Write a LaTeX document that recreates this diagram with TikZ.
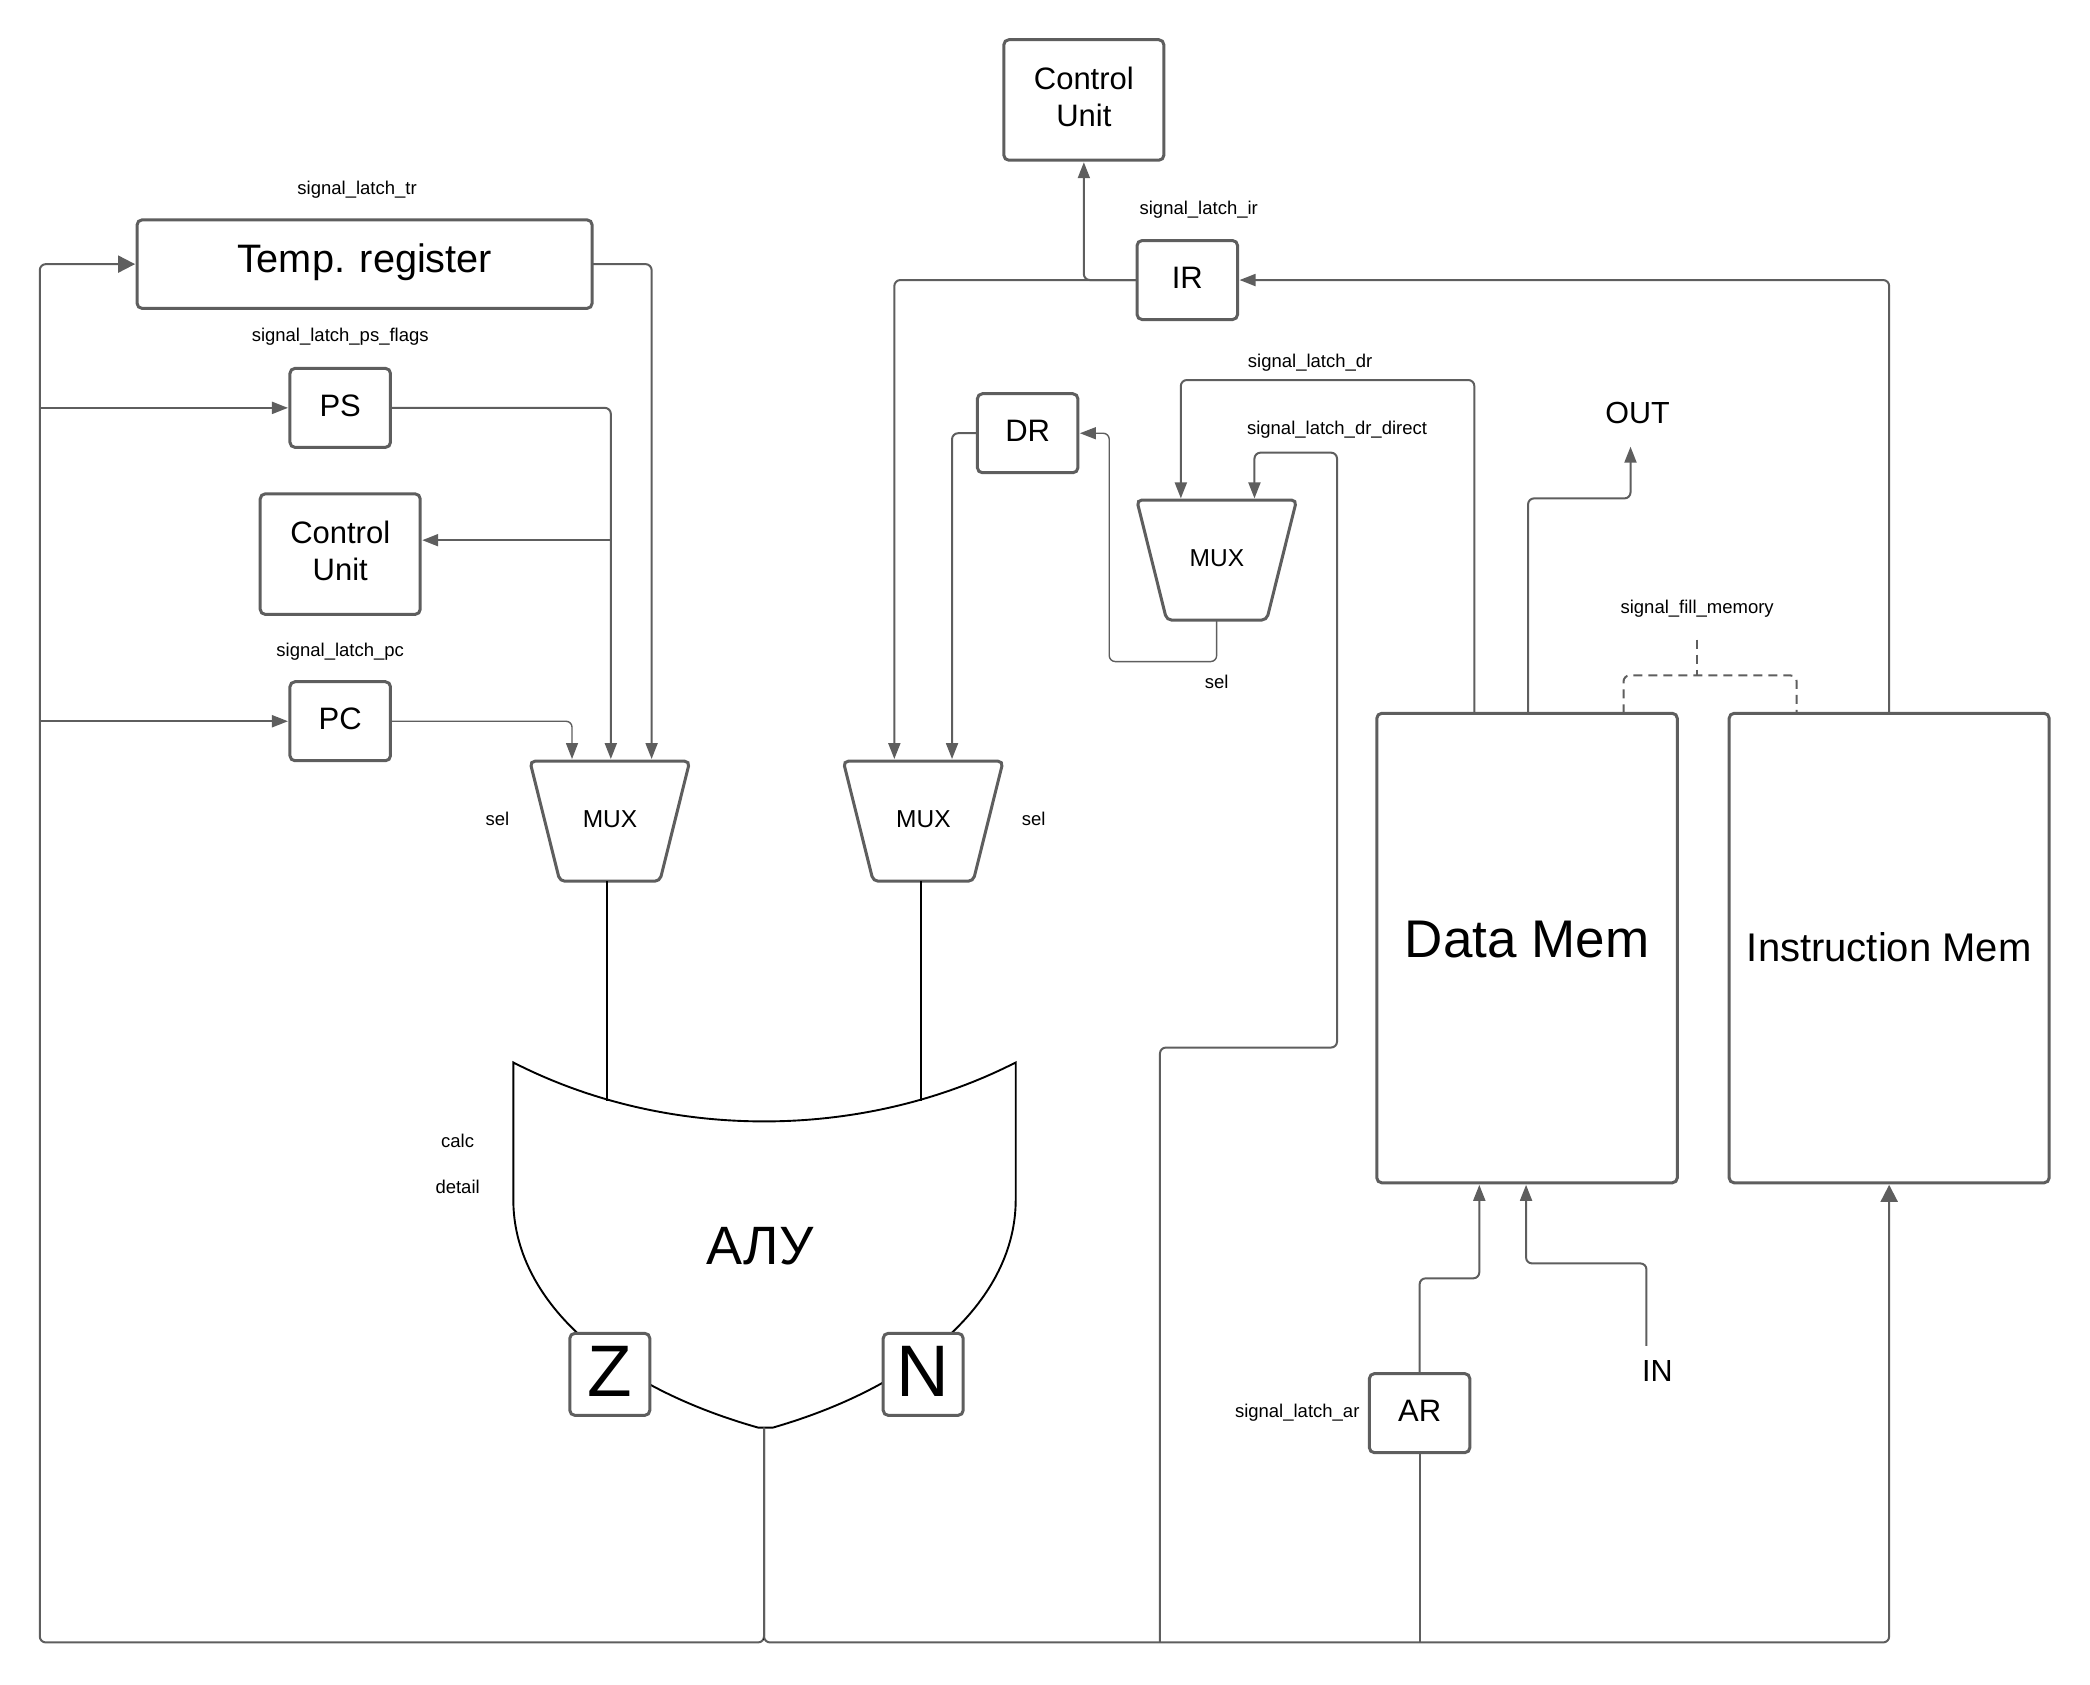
\documentclass[tikz,border=0pt]{standalone}
\usepackage{fontspec}
\setmainfont{Liberation Sans}
\usetikzlibrary{arrows.meta}
\usetikzlibrary{shapes.geometric}
\definecolor{linegray}{HTML}{5E5E5E}
\tikzset{
	box/.style={rectangle, draw=linegray, line width=3, rounded corners=5, fill=white, align=center, inner sep=0, outer sep=0},
	reg/.style={box, minimum width=100.5, minimum height=79, text depth=5, font=\fontsize{31}{37}\selectfont},
	cu/.style={box, minimum width=160, minimum height=120.5, text depth=7, font=\fontsize{31}{37}\selectfont},
	flag/.style={box, minimum width=80, minimum height=82, text depth=5, font=\fontsize{73}{80}\selectfont},
	mux/.style={trapezium, shape border rotate=180, trapezium angle=76, draw=linegray, line width=3, rounded corners=5, fill=white, text width=54, align=center, text height=18, text depth=6, inner xsep=23, inner ysep=48, outer sep=0, font=\fontsize{24.5}{30}\selectfont},
	lbl/.style={inner sep=0, font=\fontsize{18.5}{22}\selectfont},
	big/.style={inner sep=0, font=\fontsize{30.5}{36}\selectfont},
	wire/.style={draw=linegray, line width=2, rounded corners=6},
	arrow/.style={wire, -{Triangle[length=16, width=12]}, shorten >=2},
	bigarrow/.style={wire, -{Triangle[length=17, width=17]}, shorten >=2},
	blackline/.style={draw=black, line width=1.9},
}
\begin{document}
\begin{tikzpicture}[x=0.9948pt,y=-0.9948pt]
\useasboundingbox (0,0) rectangle (2100.9,1692.8);

% rails
\coordinate (railL) at (40,1651);
\coordinate (railR) at (1899,1651);
\coordinate (alutip) at (768,1435);
\coordinate (aluend) at (768,1649);

% alu body
\draw[blackline, fill=white] (516,1068) .. controls (670,1147) and (866,1147) .. (1021,1068) -- (1021,1206)
	.. controls (1021,1305) and (926,1392) .. (777,1435) -- (762,1435)
	.. controls (610,1392) and (516,1305) .. (516,1206) -- cycle;
\coordinate (alua) at (610,1107);
\coordinate (alub) at (926,1107);
\node [font=\fontsize{54}{60}\selectfont] (alu) at (764,1253) {АЛУ};
\node [flag] (z) at (613,1381.5) {Z};
\node [flag] (n) at (928,1381.5) {N};

% left side
\node [box, minimum width=455, minimum height=88.5, text depth=12, font=\fontsize{39.7}{46}\selectfont] (temp) at (366.5,265.5) {Temp. register};
\node [reg] (ps) at (342,410) {PS};
\node [cu] (cu1) at (342,557) {Control\\Unit};
\node [reg] (pc) at (342,725) {PC};
\node [mux] (mux1) at (613,825.5) {MUX};
\node [mux] (mux2) at (928,825.5) {MUX};

% right side
\node [cu] (cu2) at (1089.5,100.5) {Control\\Unit};
\node [reg] (ir) at (1193.5,281.5) {IR};
\node [reg] (dr) at (1033,435.5) {DR};
\node [mux] (mux3) at (1223,563) {MUX};
\node [box, minimum width=300.5, minimum height=469.5, text depth=18, font=\fontsize{53}{60}\selectfont] (dmem) at (1535,953) {Data Mem};
\node [box, minimum width=320, minimum height=469.5, text depth=3, font=\fontsize{40}{48}\selectfont] (imem) at (1899,953) {Instruction Mem};
\node [reg] (ar) at (1427,1420.5) {AR};
\node [big] (out) at (1646,415) {OUT};
\node [big] (in) at (1666,1378) {IN};

% mux inputs and outputs
\coordinate (mux1a) at (575,765);
\coordinate (mux1b) at (614,765);
\coordinate (mux1c) at (655,765);
\coordinate (mux2a) at (899,765);
\coordinate (mux2b) at (957,765);
\coordinate (mux3a) at (1187,503);
\coordinate (mux3b) at (1261,503);
\coordinate (mux1o) at (610,886);
\coordinate (mux2o) at (926,886);
\coordinate (cu1in) at (614,543);
\coordinate (inend) at (1655,1353);

% temp, ps, pc
\draw[bigarrow] (alutip) |- (railL) |- (temp.west);
\draw[arrow] (railL |- ps.west) -- (ps.west);
\draw[arrow] (railL |- pc.west) -- (pc.west);
\draw[arrow] (temp.east) -| (mux1c);
\draw[arrow] (ps.east) -| (mux1b);
\draw[arrow, line width=1.4] (pc.east) -| (mux1a);
\draw[arrow] (cu1in) -- (cu1in -| cu1.east);
\draw[blackline] (mux1o) -- (alua);
\draw[blackline] (mux2o) -- (alub);
\draw[blackline] (alutip) -- (aluend);

% bottom rail to the right
\draw[bigarrow] (alutip) |- (railR) -- (imem.south);
\draw[arrow] (ar.north) |- (1487,1285) -- (1487,1189);
\draw[wire] (ar.south) -- (ar.south |- railR);
\draw[arrow] (inend) |- (1534,1270) -- (1534,1189);

% ir, dr, control unit
\draw[arrow] (imem.north) |- (ir.east);
\draw[arrow] (ir.west) -| (mux2a);
\draw[arrow] (ir.west) -| (cu2.south);
\draw[arrow] (dr.west) -| (mux2b);
\draw[arrow, line width=1.4] (mux3.south) |- (1115,665) |- (dr.east);
\draw[arrow] (1482,717) |- (1187,382) -- (mux3a);
\draw[arrow] (1166,1651) |- (1344,1053) |- (1261,455) -- (mux3b);
\draw[arrow] (1536,717) |- (1639,501) -- (1639,447);

% fill memory
\draw[wire, dashed, dash pattern=on 9 off 6] (1706,643) -- (1706,679);
\draw[wire, dashed, dash pattern=on 9 off 6] (1632,717) |- (1806,679) -- (1806,717);

\node [lbl] (ltr) at (359,191) {signal\_latch\_tr};
\node [lbl] (lps) at (342,338) {signal\_latch\_ps\_flags};
\node [lbl] (lpc) at (342,655) {signal\_latch\_pc};
\node [lbl] (lsel1) at (500,823) {sel};
\node [lbl] (lsel2) at (1039,823) {sel};
\node [lbl] (lsel3) at (1223,685) {sel};
\node [lbl] (lir) at (1205,211) {signal\_latch\_ir};
\node [lbl] (ldr) at (1317,365) {signal\_latch\_dr};
\node [lbl] (ldd) at (1344,432) {signal\_latch\_dr\_direct};
\node [lbl] (lfill) at (1706,612) {signal\_fill\_memory};
\node [lbl] (lar) at (1304,1420) {signal\_latch\_ar};
\node [lbl] (lcalc) at (460,1147) {calc};
\node [lbl] (ldet) at (460,1193) {detail};
\end{tikzpicture}
\end{document}
